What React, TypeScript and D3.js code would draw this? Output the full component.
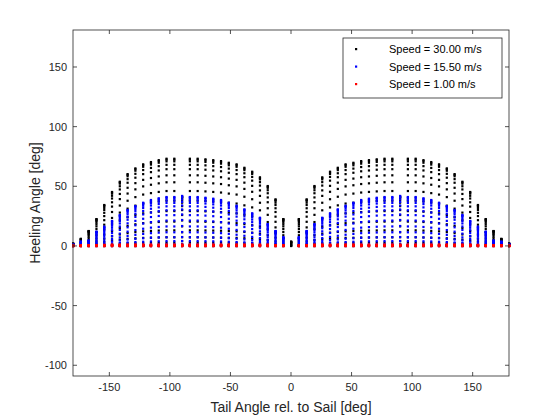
import * as d3 from 'd3'

// column angles: i * 180/28 for i = -28..28
const COL_IDX = d3.range(-28, 29)
// peak heeling angle per column, left half i=-28..0 (mirrored to the right)
const BLACK_MAX = [2, 6, 12.6, 22.6, 34.4, 45.3, 53.9, 60.3, 65.1, 68.5, 70.4, 72, 73.2, 73.2, 41.3, 73.2, 73.2, 72.7, 72, 71.2, 69.8, 68.5, 65.6, 62.3, 57.6, 50.3, 39.1, 22.6, 3.6]
const BLUE_MAX = [1.5, 3.6, 4.5, 12, 16.2, 21, 26, 30.2, 33.5, 36.3, 38.6, 40, 41.1, 41.1, 42, 41.1, 41.1, 40.5, 39.7, 38.6, 36.3, 33.8, 30.7, 27.4, 23.7, 18.4, 12.6, 7.3, 0]
const RED_MAX = [0.3, 0.5, 0.6, 0.8, 0.9, 1, 1, 1, 1, 1, 1, 1, 1, 1, 1, 1, 1, 1, 1, 1, 1, 1, 1, 1, 1, 1, 0.8, 0.5, 0]
// relative levels sampled in each column
const LEVELS = [0, 0.04, 0.1, 0.18, 0.28, 0.4, 0.52, 0.63, 0.73, 0.81, 0.88, 0.93, 0.97, 0.99, 1]
const X_TICKS = [-150, -100, -50, 0, 50, 100, 150]
const Y_TICKS = [-100, -50, 0, 50, 100, 150]
const SERIES = [
  { label: 'Speed = 30.00 m/s', color: '#000000', max: BLACK_MAX },
  { label: 'Speed = 15.50 m/s', color: '#0000ff', max: BLUE_MAX },
  { label: 'Speed = 1.00 m/s', color: '#ff0000', max: RED_MAX },
]

const W = 560, H = 420
const M = { left: 73, right: 51, top: 30, bottom: 44 }
const FONT = 'Liberation Sans, Arial, sans-serif'

export default function App() {
  const x = d3.scaleLinear().domain([-180, 180]).range([M.left, W - M.right])
  const y = d3.scaleLinear().domain([-109, 181]).range([H - M.bottom, M.top])
  const pts = SERIES.map(s => {
    const out: [number, number][] = []
    COL_IDX.forEach(i => {
      const m = s.max[28 - Math.abs(i)]
      if (m <= 0 && s.color !== '#000000') return
      LEVELS.forEach(f => out.push([i * 180 / 28, m * f]))
    })
    return out
  })
  const x0 = M.left, x1 = W - M.right, y0 = M.top, y1 = H - M.bottom
  return (
    <svg width={W} height={H} style={{ position: 'absolute', left: 0, top: 0, background: '#fff' }} fontFamily={FONT}>
      <rect x={x0} y={y0} width={x1 - x0} height={y1 - y0} fill="#fff" />
      {pts.map((p, k) => p.map(([a, v], j) => (
        <rect key={k + '-' + j} x={x(a) - 1} y={y(v) - 1} width={2.2} height={2.2} fill={SERIES[k].color} />
      )))}
      <rect x={x0} y={y0} width={x1 - x0} height={y1 - y0} fill="none" stroke="#262626" strokeWidth={0.8} />
      {X_TICKS.map(t => (
        <g key={'x' + t}>
          <line x1={x(t)} x2={x(t)} y1={y1} y2={y1 - 4} stroke="#262626" strokeWidth={0.8} />
          <line x1={x(t)} x2={x(t)} y1={y0} y2={y0 + 4} stroke="#262626" strokeWidth={0.8} />
          <text x={x(t)} y={y1 + 15} textAnchor="middle" fontSize={11} fill="#262626">{t}</text>
        </g>
      ))}
      {Y_TICKS.map(t => (
        <g key={'y' + t}>
          <line x1={x0} x2={x0 + 4} y1={y(t)} y2={y(t)} stroke="#262626" strokeWidth={0.8} />
          <line x1={x1} x2={x1 - 4} y1={y(t)} y2={y(t)} stroke="#262626" strokeWidth={0.8} />
          <text x={x0 - 6} y={y(t) + 4} textAnchor="end" fontSize={11} fill="#262626">{t}</text>
        </g>
      ))}
      <text x={(x0 + x1) / 2} y={H - 8} textAnchor="middle" fontSize={14} fill="#262626">Tail Angle rel. to Sail [deg]</text>
      <text transform={`translate(${40},${(y0 + y1) / 2}) rotate(-90)`} textAnchor="middle" fontSize={14} fill="#262626">Heeling Angle [deg]</text>
      <rect x={343} y={38} width={159} height={60} fill="#fff" stroke="#262626" strokeWidth={0.8} />
      {SERIES.map((s, i) => (
        <g key={s.label}>
          <rect x={355} y={48 + i * 17.5} width={2.2} height={2.2} fill={s.color} />
          <text x={389} y={53 + i * 17.5} fontSize={11} fill="#000">{s.label}</text>
        </g>
      ))}
    </svg>
  )
}
